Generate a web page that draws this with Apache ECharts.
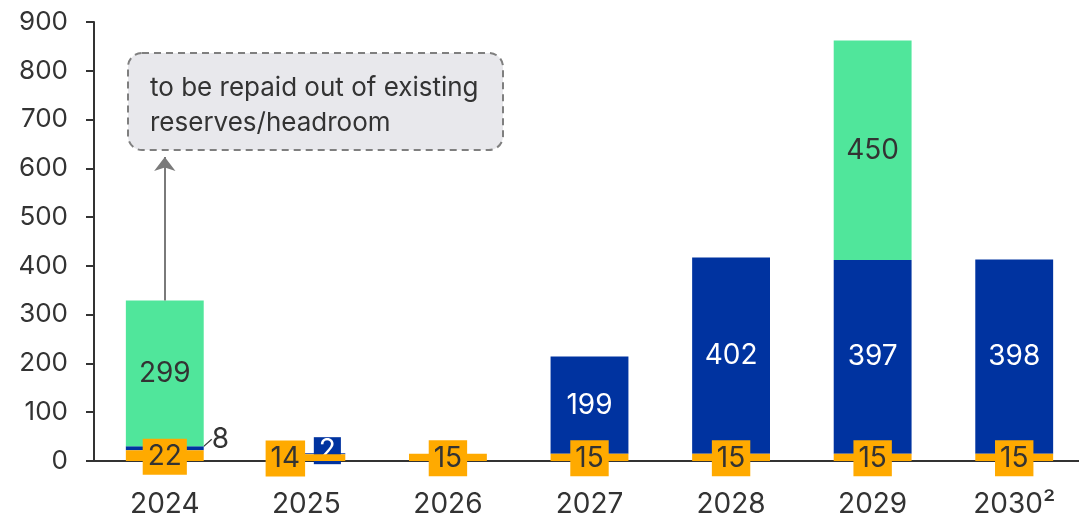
<!DOCTYPE html>
<html>
<head>
<meta charset="utf-8">
<script src="https://cdn.jsdelivr.net/npm/echarts@6/dist/echarts.min.js"></script>
<style>
  html, body { margin: 0; padding: 0; background: #fff; }
  #chart { width: 1079px; height: 516px; }
</style>
</head>
<body>
<div id="chart"></div>
<script>
// Debt maturity profile by year (stacked segments)
const years = ['2024', '2025', '2026', '2027', '2028', '2029', '2030²'];
const baseValues = [22, 14, 15, 15, 15, 15, 15];          // orange base segment
const bondValues = [8, 2, null, 199, 402, 397, 398];       // blue segment
const facilityValues = [299, null, null, null, null, 450, null]; // green segment
const yTicks = { min: 0, max: 900, step: 100 };
const noteLines = ['to be repaid out of existing', 'reserves/headroom'];

const FONT = 'Inter, "Noto Sans", sans-serif';
const TEXT = '#333333';
const ORANGE = '#FFAA00';
const BLUE = '#0033A0';
const GREEN = '#50E69B';
const LABEL_SIZE = 28;

// the small 2024 blue slice gets an outside label with a leader line
const bondData = bondValues.map((v, i) => i === 0
  ? {
      value: v,
      label: { position: 'right', distance: 4, color: TEXT, backgroundColor: 'transparent', padding: 0 },
      labelLine: { show: true, lineStyle: { color: TEXT, width: 1.2 } }
    }
  : i === 1
    ? { value: v, label: { backgroundColor: BLUE, padding: [0, 5], lineHeight: 27 } }
    : v);

const chart = echarts.init(document.getElementById('chart'));
chart.setOption({
  animation: false,
  textStyle: { fontFamily: FONT },
  grid: { left: 94, width: 991, top: 22, bottom: 55, outerBoundsMode: 'none', containLabel: false },
  xAxis: {
    type: 'category',
    data: years,
    axisLine: { lineStyle: { color: TEXT, width: 2 } },
    axisTick: { show: false },
    axisLabel: { color: TEXT, fontSize: 28, fontFamily: FONT, margin: 30 }
  },
  yAxis: {
    type: 'value',
    min: yTicks.min,
    max: yTicks.max,
    interval: yTicks.step,
    axisLine: { show: true, lineStyle: { color: TEXT, width: 2 } },
    axisTick: { show: true, length: 8, lineStyle: { color: TEXT, width: 2 } },
    splitLine: { show: false },
    axisLabel: { color: TEXT, fontSize: 26, fontFamily: FONT, margin: 26 }
  },
  series: [
    {
      name: 'base',
      type: 'bar',
      stack: 'total',
      barWidth: '55%',
      data: baseValues,
      itemStyle: { color: ORANGE },
      label: {
        show: true, position: 'inside', color: TEXT, fontSize: LABEL_SIZE, fontFamily: FONT,
        lineHeight: 28, backgroundColor: ORANGE, padding: [4, 5]
      },
      labelLayout: (p) => p.dataIndex === 1 ? { dx: -21, dy: 1 } : { dy: 1 },
      z: 3
    },
    {
      name: 'bonds',
      type: 'bar',
      stack: 'total',
      data: bondData,
      itemStyle: { color: BLUE },
      label: {
        show: true, position: 'inside', color: '#ffffff', fontSize: LABEL_SIZE,
        fontFamily: FONT, lineHeight: 28
      },
      labelLayout: (p) => p.dataIndex === 0 ? { dx: 4, dy: -9 }
        : p.dataIndex === 1 ? { dx: 21, dy: -3 } : {},
      z: 2
    },
    {
      name: 'facility',
      type: 'bar',
      stack: 'total',
      data: facilityValues,
      itemStyle: { color: GREEN },
      label: { show: true, position: 'inside', color: TEXT, fontSize: LABEL_SIZE, fontFamily: FONT },
      markLine: {
        silent: true,
        symbol: ['none', 'arrow'],
        symbolSize: [16, 14],
        label: { show: false },
        lineStyle: { color: '#7a7a7a', width: 2, type: 'solid' },
        data: [[{ coord: [0, 329] }, { coord: [0, 623] }]]
      },
      z: 2
    }
  ],
  graphic: [
    {
      type: 'group',
      left: 127,
      top: 52,
      children: [
        {
          type: 'rect',
          shape: { x: 0, y: 0, width: 375, height: 97, r: 14 },
          style: { fill: '#E8E8EC', stroke: '#7F7F7F', lineWidth: 2, lineDash: [7, 5] }
        },
        {
          type: 'text',
          x: 22, y: 22,
          style: { text: noteLines[0], fill: TEXT, font: '26px ' + FONT }
        },
        {
          type: 'text',
          x: 22, y: 57,
          style: { text: noteLines[1], fill: TEXT, font: '26px ' + FONT }
        }
      ]
    }
  ]
});
</script>
</body>
</html>
